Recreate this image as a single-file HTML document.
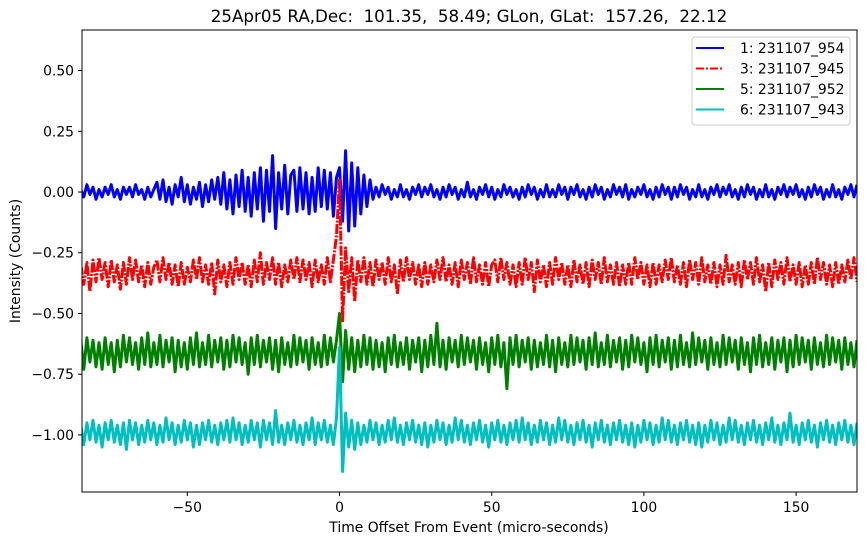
<!DOCTYPE html>
<html><head><meta charset="utf-8">
<style>
html,body{margin:0;padding:0;background:#fff;}
svg{display:block;font-family:"DejaVu Sans","Liberation Sans",sans-serif;}
</style></head>
<body>
<svg id="chart" width="866" height="545" viewBox="0 0 866 545"></svg>
<script>
const tStart = -85;
const tStep = 1;
const seriesNames = ["1: 231107_954","3: 231107_945","5: 231107_952","6: 231107_943"];
const baselines = [0.0,-0.33,-0.66,-0.99];
const dev1 = [1,-2,3,-1,2,-3,1,-2,2,-1,3,-2,1,-3,2,-1,2,-2,3,-1,1,-3,2,-2,1,
4,-3,5,-4,2,-5,3,-2,6,-4,3,-5,2,-3,4,-6,3,-4,5,-3,
6,-5,8,-7,5,-9,7,-6,9,-8,6,-10,8,-7,10,-12,9,-8,15,-15,8,-7,11,-9,7,
9,-8,10,-7,8,-9,6,-8,10,-6,9,-7,8,-10,6,
10,-12,17,-16,12,-14,10,-9,7,-6,5,
-3,2,-2,3,-1,2,-3,1,-2,3,-2,1,-3,2,-1,3,-2,2,-1,3,
-2,1,-3,2,-2,3,-1,2,-3,1,-2,4,-2,1,-3,2,-1,3,-2,2,
-3,1,-2,3,-1,2,-2,1,-3,2,-2,3,-1,2,-3,1,-2,3,-2,1,
-2,3,-1,2,-3,2,-1,3,-2,1,-3,2,-2,3,-1,2,-3,1,-2,3,
-1,2,-2,3,-3,1,-2,2,-1,3,-2,1,-3,2,-2,3,-1,2,-3,2,
-2,3,-1,2,-3,1,-2,3,-2,1,-3,2,-1,3,-2,2,-1,3,-2,1,
-3,2,-2,3,-1,2,-3,1,-2,3,-2,1,-3,2,-1,3,-2,2,-1,3,
-2,1,-3,2,-2,3,-1,2,-3,1,-2,3,-2,1,-3,2,-1,3,-2,3];
const dev2 = [3,-5,4,-8,5,-4,6,-3,4,-6,5,-4,3,-7,4,-5,6,-3,5,-4,3,-6,4,-5,2,
5,-4,6,-3,4,-5,3,-6,4,-5,2,-4,5,-3,6,-4,3,-5,4,-9,
5,-4,3,-6,4,-5,6,-3,4,-5,3,-6,5,-4,8,-5,4,-3,6,-5,4,-6,3,-4,5,
-3,6,-4,5,-3,4,-6,5,-4,3,-5,6,-4,5,15,
38,-20,10,-8,6,-12,5,-4,6,-5,4,
-6,5,-3,4,-5,6,-4,3,-9,5,-4,6,-3,4,-5,3,-6,4,-5,3,
-4,5,-3,6,-4,3,-5,4,-6,5,-3,4,-5,6,-4,3,-5,4,-6,3,
5,-4,6,-3,4,-5,3,-6,4,-5,6,-3,4,-8,5,-4,3,-6,4,-5,
6,-3,4,-5,3,-6,5,-4,3,-5,4,-6,5,-3,4,-5,6,-4,3,-5,
4,-6,3,-5,4,-5,6,-3,4,-5,3,-6,4,-5,3,-4,5,-3,6,-4,
3,-5,4,-6,5,-3,4,-5,6,-4,3,-5,4,-6,3,-5,7,-4,3,-5,
4,-6,5,-3,4,-5,6,-4,3,-8,4,-6,5,-3,4,-5,6,-4,3,-5,
4,-6,3,-5,4,-5,6,-3,4,-5,3,-6,4,-5,3,-4,5,-3,6,-4];
const dev3 = [5,-7,6,-4,5,-6,4,-7,6,-5,4,-8,5,-6,7,-4,6,-5,4,-7,6,-5,8,-6,4,
-5,7,-6,5,-4,6,-8,5,-6,4,-7,6,-5,8,-6,4,-5,7,-6,5,
-4,6,-7,5,-6,7,-4,6,-5,4,-9,6,-5,7,-6,5,-4,6,-7,5,-8,6,-5,4,-6,
7,-5,6,-4,5,-7,6,-5,4,-6,7,-5,6,-4,5,
16,-12,9,-7,6,-8,5,-6,7,-5,6,
-7,5,-6,4,-8,6,-5,7,-6,4,-5,6,-7,5,-4,6,-8,5,-6,7,
-5,12,-6,5,-7,6,-4,5,-6,7,-5,6,-4,5,-7,6,-5,4,-8,6,
-5,7,-6,4,-15,6,-5,7,-6,5,-4,6,-7,5,-6,4,-5,7,-6,5,
-8,6,-5,4,-6,7,-5,6,-4,5,-7,6,-5,8,-6,4,-5,7,-6,5,
-4,6,-7,5,-6,7,-4,6,-5,4,-8,6,-5,7,-6,5,-4,6,-7,5,
-6,7,-5,4,-6,8,-5,6,-4,5,-7,6,-5,4,-6,7,-5,6,-4,5,
-7,6,-5,4,-8,6,-5,7,-6,4,-5,6,-7,5,-4,6,-8,5,-6,7,
-5,6,-4,5,-7,6,-5,4,-6,7,-5,6,-4,5,-7,6,-5,4,-6,5];
const dev4 = [3,-5,4,-3,5,-4,3,-6,4,-3,5,-4,3,-5,4,-7,5,-3,4,-5,3,-4,5,-3,4,
-5,3,-4,6,-3,4,-5,3,-4,5,-3,4,-6,3,-5,4,-3,5,-4,3,
-5,4,-3,5,-4,6,-3,4,-5,3,-4,5,-3,4,-6,5,-3,4,-5,9,-4,3,-5,4,-3,
5,-4,3,-5,4,-3,6,-5,4,-3,5,-4,3,-5,6,
35,-16,8,-6,5,-7,4,-5,3,-4,5,
-3,4,-5,3,-4,5,-3,6,-4,3,-5,4,-3,5,-4,3,-5,4,-6,3,
-4,5,-3,4,-5,3,-4,6,-3,5,-4,3,-5,4,-3,5,-4,3,-6,4,
-3,5,-4,3,-5,4,-3,5,-4,6,-3,4,-5,3,-4,5,-3,4,-5,3,
-4,6,-3,5,-4,3,-5,4,-3,5,-4,3,-6,4,-3,5,-4,3,-5,4,
-3,5,-4,3,-5,4,-6,3,-4,5,-3,4,-5,3,-4,6,-3,5,-4,3,
-5,4,-3,5,-4,3,-5,4,-6,3,-4,5,-3,4,-5,3,-4,6,-3,5,
-4,3,-5,4,-3,5,-4,3,-5,4,-3,6,-4,3,-5,4,-3,8,-4,3,
-5,4,-3,5,-4,3,-6,4,-3,5,-4,3,-5,4,-3,5,-4,3,-5,4];
const deviations = [dev1,dev2,dev3,dev4];
const colors = ["#0000ff","#ff0000","#008000","#00bfbf"];
const xTicks = [-50,0,50,100,150];
const yTicks = [0.5,0.25,0,-0.25,-0.5,-0.75,-1.0];
const yTickLabels = ["0.50","0.25","0.00","\u22120.25","\u22120.50","\u22120.75","\u22121.00"];

const L=82,R=857,T=30,B=492;
const xMin=-84.6,xMax=170,yMin=-1.235,yMax=0.667;
const X=v=>L+(v-xMin)/(xMax-xMin)*(R-L);
const Y=v=>B-(v-yMin)/(yMax-yMin)*(B-T);
const NS="http://www.w3.org/2000/svg";
const svg=document.getElementById('chart');
function mk(tag,attrs,parent){const e=document.createElementNS(NS,tag);for(const k in attrs)e.setAttribute(k,attrs[k]);(parent||svg).appendChild(e);return e;}

const defs=mk('defs',{});
const cp=mk('clipPath',{id:'clip'},defs);
mk('rect',{x:L,y:T,width:R-L,height:B-T},cp);

const plot=mk('g',{'clip-path':'url(#clip)'});


deviations.forEach((d,s)=>{
  let pts=d.map((v,i)=>X(tStart+i*tStep).toFixed(1)+','+Y(baselines[s]+v/100).toFixed(1)).join(' ');
  const pl=mk('polyline',{points:pts,fill:'none',stroke:colors[s],'stroke-width':3,'stroke-linejoin':'round'},plot);
  if(s===1) pl.setAttribute('stroke-dasharray','10,1.5,2,1.5');
  
  
});

const frame=mk('rect',{x:L,y:T,width:R-L,height:B-T,fill:'none',stroke:'#000','stroke-width':1});



xTicks.forEach(v=>{
  const x=X(v);
  mk('line',{x1:x,x2:x,y1:B,y2:B+4,stroke:'#000'});
  const t=mk('text',{x:x,y:B+20,'font-size':13.9,'text-anchor':'middle'});
  t.textContent=v<0?'\u2212'+Math.abs(v):String(v);
  
  
});
yTicks.forEach((v,i)=>{
  const y=Y(v);
  mk('line',{x1:L-4,x2:L,y1:y,y2:y,stroke:'#000'});
  const t=mk('text',{x:L-8,y:y+5,'font-size':13.9,'text-anchor':'end'});
  t.textContent=yTickLabels[i];
  
  
});

const title=mk('text',{x:469,y:22,'font-size':16.7,'text-anchor':'middle'});
title.textContent='25Apr05 RA,Dec:  101.35,  58.49; GLon, GLat:  157.26,  22.12';


title.style.whiteSpace='pre';

const xl=mk('text',{x:469,y:532,'font-size':13.9,'text-anchor':'middle'});
xl.textContent='Time Offset From Event (micro-seconds)';



const yl=mk('text',{x:20,y:261,'font-size':13.9,'text-anchor':'middle',transform:'rotate(-90 20 261)'});
yl.textContent='Intensity (Counts)';



const lg=mk('g',{});


mk('rect',{x:692,y:37,width:158,height:88,rx:3,fill:'#fff','fill-opacity':0.8,stroke:'#ccc'},lg);
seriesNames.forEach((n,i)=>{
  const y=48+i*20.5;
  const ln=mk('line',{x1:696,x2:724,y1:y,y2:y,stroke:colors[i],'stroke-width':2},lg);
  if(i===1) ln.setAttribute('stroke-dasharray','8,2,2,2');
  const t=mk('text',{x:740,y:y+5,'font-size':13.9},lg);
  t.textContent=n;
  
  
});
</script>
</body></html>
